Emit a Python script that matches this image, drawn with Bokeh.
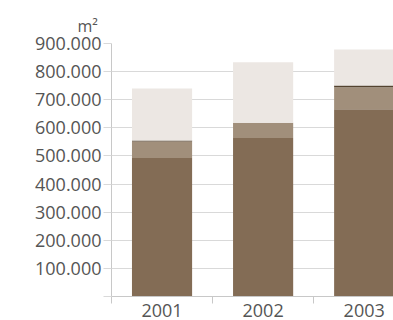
from bokeh.plotting import figure
from bokeh.models import ColumnDataSource, FixedTicker, Range1d, Title
from bokeh.embed import file_html
from bokeh.resources import INLINE

years = ["2001", "2002", "2003"]
dark = [493000, 564000, 666000]
medium = [58000, 54000, 78000]
line = [4000, 0, 7000]
light = [185000, 215000, 128000]
y_ticks = [0, 100000, 200000, 300000, 400000, 500000, 600000, 700000, 800000, 900000]
unit = "m²"

x = [i + 0.5 for i in range(len(years))]
src = ColumnDataSource(dict(x=x, dark=dark, medium=medium, line=line, light=light))

font = "Open Sans"
tc = "#555555"
grid_c = "#d9d9d9"

p = figure(width=393, height=320, output_backend="svg", toolbar_location=None,
           x_range=Range1d(0, 2.79), y_range=Range1d(0, 900000),
           min_border_left=111, min_border_right=0, min_border_top=43, min_border_bottom=24)
p.outline_line_color = None
p.background_fill_color = "white"
p.border_fill_color = "white"

p.add_layout(Title(text=unit, text_font=font, text_font_size="16px", text_color=tc,
                   text_font_style="normal", align="left", offset=-34, standoff=14), "above")

colors = ["#836c55", "#a18f7b", "#54432f", "#ece7e3"]
p.vbar_stack(["dark", "medium", "line", "light"], x="x", width=0.595, source=src,
             color=colors, line_color=None)

# y axis
p.yaxis.ticker = FixedTicker(ticks=y_ticks, minor_ticks=[])
p.yaxis.major_label_overrides = {t: (f"{t:,}".replace(",", ".") if t else "") for t in y_ticks}
p.yaxis.major_tick_out = 8
p.yaxis.major_tick_in = 0
p.yaxis.major_tick_line_color = grid_c
p.yaxis.axis_line_color = "#c8c8c8"
p.yaxis.major_label_text_font = font
p.yaxis.major_label_text_font_size = "18px"
p.yaxis.major_label_text_color = tc
p.yaxis.major_label_standoff = 2
p.ygrid.grid_line_color = grid_c
p.ygrid.ticker = FixedTicker(ticks=y_ticks)

# x axis: boundary ticks as minor ticks, year labels at category centres
p.xaxis.ticker = FixedTicker(ticks=x, minor_ticks=[float(i) for i in range(len(years) + 1)])
p.xaxis.major_label_overrides = {xi: y for xi, y in zip(x, years)}
p.xaxis.major_tick_line_color = None
p.xaxis.major_tick_out = 0
p.xaxis.major_tick_in = 0
p.xaxis.minor_tick_out = 7
p.xaxis.minor_tick_in = 0
p.xaxis.minor_tick_line_color = "#c8c8c8"
p.xaxis.axis_line_color = "#c8c8c8"
p.xaxis.major_label_text_font = font
p.xaxis.major_label_text_font_size = "18px"
p.xaxis.major_label_text_color = tc
p.xaxis.major_label_standoff = 0
p.xgrid.grid_line_color = None

open("out.html", "w").write(file_html(p, INLINE))
